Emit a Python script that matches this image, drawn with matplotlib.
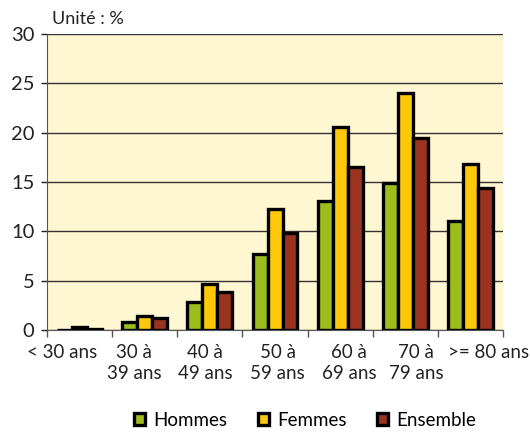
import numpy as np
import matplotlib
matplotlib.use("Agg")
import matplotlib.pyplot as plt

plt.rcParams['font.family'] = ['Lato', 'DejaVu Sans']

categories = ["< 30 ans", "30 à\n39 ans", "40 à\n49 ans", "50 à\n59 ans",
              "60 à\n69 ans", "70 à\n79 ans", ">= 80 ans"]
hommes = [0.0, 0.8, 2.8, 7.7, 13.1, 14.9, 11.0]
femmes = [0.3, 1.4, 4.7, 12.3, 20.6, 24.0, 16.8]
ensemble = [0.1, 1.2, 3.8, 9.8, 16.5, 19.5, 14.4]
yticks = [0, 5, 10, 15, 20, 25, 30]

c_h = "#9cbd1c"
c_f = "#fdc80a"
c_e = "#9a3420"

fig = plt.figure(figsize=(5.30, 4.37), dpi=100)
ax = fig.add_axes([0.0887, 0.2449, 0.8604, 0.6771])
ax.set_facecolor("#fff7d2")

x = np.arange(len(categories))
w = 0.23
for off, vals, col, lab in [(-w, hommes, c_h, "Hommes"),
                            (0, femmes, c_f, "Femmes"),
                            (w, ensemble, c_e, "Ensemble")]:
    ax.bar(x + off, vals, w, color=col, edgecolor="black", linewidth=2.4,
           label=lab, zorder=3)

ax.set_ylim(0, 30)
ax.set_xlim(-0.5, len(categories) - 0.5)
ax.set_yticks(yticks)
ax.yaxis.grid(True, color="#333333", linewidth=1.0, zorder=0)
ax.tick_params(axis="y", length=4, width=1, labelsize=14.5, pad=5, colors="#222222")

# boundaries get tick marks, labels sit on their own minor ticks
ax.set_xticks(np.arange(len(categories) + 1) - 0.5)
ax.set_xticklabels([])
ax.tick_params(axis="x", which="major", length=5, width=1, color="#555555")
lab_pos = [-0.27, 0.84, 1.93, 3.04, 4.14, 5.17, 6.28]
ax.set_xticks(lab_pos, minor=True)
ax.set_xticklabels(categories, minor=True, linespacing=1.3)
ax.tick_params(axis="x", which="minor", length=0, labelsize=13.5, pad=10,
               labelcolor="#222222")

for s in ["top", "right"]:
    ax.spines[s].set_visible(False)
ax.spines["left"].set_color("#555555")
ax.spines["bottom"].set_color("#555555")

fig.text(0.098, 0.945, "Unité : %", fontsize=13, color="#222222")

fig.legend(loc="lower center", bbox_to_anchor=(0.576, -0.02), ncol=3, frameon=False,
           fontsize=13.5, handlelength=0.6, handleheight=0.6, handletextpad=0.45,
           columnspacing=1.6)

fig.savefig("out.png", dpi=100)
